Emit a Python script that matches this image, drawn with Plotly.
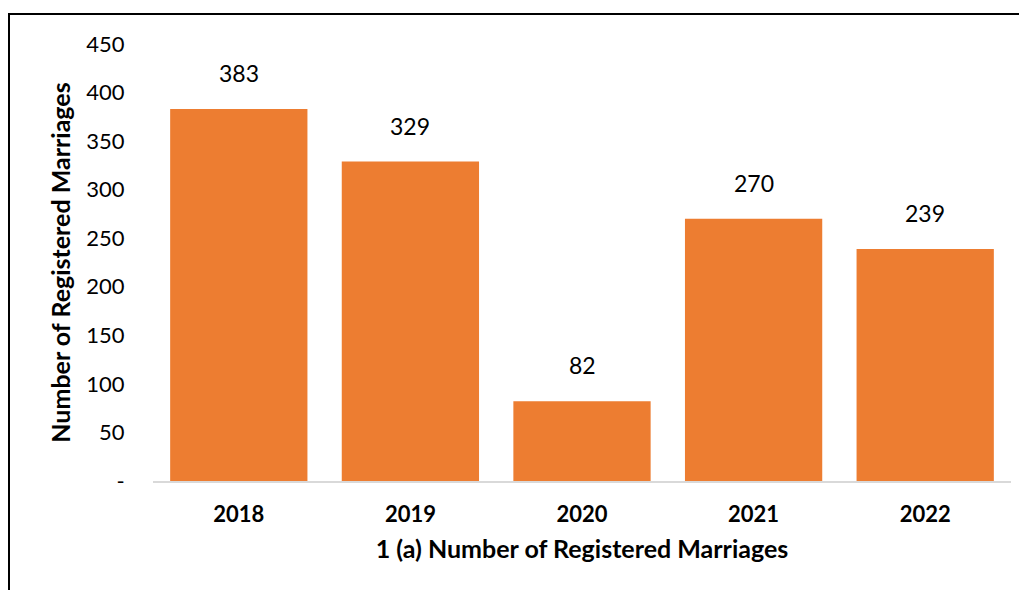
import plotly.graph_objects as go

years = ["2018", "2019", "2020", "2021", "2022"]
marriages = [383, 329, 82, 270, 239]
y_tick_vals = [0, 50, 100, 150, 200, 250, 300, 350, 400, 450]
y_tick_text = ["-", "50", "100", "150", "200", "250", "300", "350", "400", "450"]

FONT = "Lato, Open Sans, sans-serif"

fig = go.Figure(go.Bar(
    x=years, y=marriages,
    marker=dict(color="#ED7D31", line=dict(width=0)),
    cliponaxis=False,
))

for i, v in enumerate(marriages):
    fig.add_annotation(x=i, y=v, xref="x", yref="y", text=str(v), showarrow=False,
                       yanchor="middle", yshift=36,
                       font=dict(size=23, family=FONT, color="#000000"))

# page is offset by 8px body margin
W, H = 1027, 590
L, T = 145, 36
pw, ph = 858, 437
R = W - L - pw
B = H - T - ph

fig.update_layout(
    width=W, height=H,
    margin=dict(l=L, r=R, t=T, b=B),
    paper_bgcolor="white", plot_bgcolor="white",
    bargap=0.2,
    showlegend=False,
    font=dict(family=FONT, color="#000000"),
    xaxis=dict(
        type="category", range=[-0.5, len(years) - 0.5],
        showline=True, linecolor="#D9D9D9", linewidth=2,
        showgrid=False, ticks="outside", ticklen=13, tickcolor="rgba(0,0,0,0)",
        tickfont=dict(size=22, family=FONT, color="#000000", weight="bold"),
        title=dict(text="<b>1 (a) Number of Registered Marriages</b>",
                   font=dict(size=25, family=FONT, color="#000000"), standoff=14),
    ),
    yaxis=dict(
        range=[0, 450], showgrid=False, zeroline=False, showline=False,
        tickvals=y_tick_vals, ticktext=y_tick_text,
        ticks="outside", ticklen=23, tickcolor="rgba(0,0,0,0)",
        tickfont=dict(size=22, family=FONT, color="#000000"),
        title=dict(text="<b>Number of Registered Marriages</b>",
                   font=dict(size=25, family=FONT, color="#000000"), standoff=8),
    ),
    shapes=[dict(
        type="rect", xref="paper", yref="paper",
        x0=(1 - L) / pw, x1=(1060 - L) / pw,
        y0=(H - B - 620) / ph, y1=(H - B - 6) / ph,
        line=dict(color="#000000", width=2), fillcolor="rgba(0,0,0,0)", layer="above",
    )],
)

fig.write_html("out.html")
